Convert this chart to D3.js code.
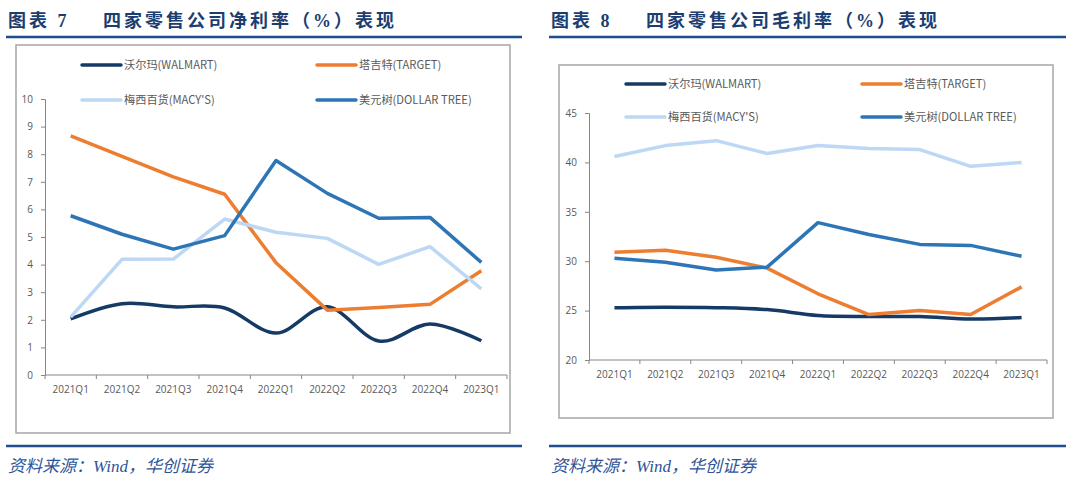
<!DOCTYPE html>
<html>
<head>
<meta charset="utf-8">
<script src="https://cdn.jsdelivr.net/npm/d3@7"></script>
<style>
  body { margin: 0; background: #fff; }
  svg { display: block; font-family: "Noto Sans CJK SC", "Noto Sans", sans-serif; }
  .axis text { fill: #595959; font-size: 10px; font-family: "Open Sans", "Noto Sans", sans-serif; }
  .axis path, .axis line { stroke: #868686; }
  .title { font-family: "Liberation Serif", "Noto Sans CJK SC", serif; }
</style>
</head>
<body>
<div class="chart"></div>
<script>
// quarters on the x axis
var quarters = ["2021Q1", "2021Q2", "2021Q3", "2021Q4", "2022Q1", "2022Q2", "2022Q3", "2022Q4", "2023Q1"];
var seriesNames = ["沃尔玛(WALMART)", "塔吉特(TARGET)", "梅西百货(MACY'S)", "美元树(DOLLAR TREE)"];

// chart 7: net margin (%)
var netWalmart = [2.03, 2.58, 2.47, 2.43, 1.52, 2.47, 1.23, 1.85, 1.24];
var netTarget = [8.66, 7.92, 7.18, 6.55, 4.07, 2.35, 2.45, 2.56, 3.78];
var netMacys = [2.10, 4.19, 4.20, 5.65, 5.17, 4.95, 4.01, 4.65, 3.12];
var netDollarTree = [5.77, 5.10, 4.56, 5.05, 7.77, 6.58, 5.68, 5.71, 4.08];
var netTicks = [0, 1, 2, 3, 4, 5, 6, 7, 8, 9, 10];

// chart 8: gross margin (%)
var grossWalmart = [25.3, 25.35, 25.3, 25.1, 24.5, 24.4, 24.4, 24.15, 24.3];
var grossTarget = [30.9, 31.1, 30.4, 29.3, 26.7, 24.6, 25.0, 24.6, 27.4];
var grossMacys = [40.6, 41.7, 42.2, 40.9, 41.7, 41.4, 41.3, 39.6, 40.0];
var grossDollarTree = [30.3, 29.9, 29.1, 29.4, 33.9, 32.7, 31.7, 31.6, 30.5];
var grossTicks = [20, 25, 30, 35, 40, 45];

var colors = ["#163a66", "#ed7d31", "#bcd8f4", "#2e75b6"];
var smooth = [true, false, false, false];

var svg = d3.select(".chart")
    .append("svg")
    .attr("width", 1080)
    .attr("height", 485);

var panels = [
    {
        title: "图表 7", subtitle: "四家零售公司净利率（%）表现",
        left: 6, right: 522,
        box: { x: 16, y: 45, w: 494, h: 388 },
        plot: { x: 45, y: 99, w: 462, h: 276 },
        legend: { x: [82, 317], y: [65, 100] },
        ticks: netTicks,
        series: [netWalmart, netTarget, netMacys, netDollarTree]
    },
    {
        title: "图表 8", subtitle: "四家零售公司毛利率（%）表现",
        left: 549, right: 1066,
        box: { x: 559, y: 65, w: 494, h: 353 },
        plot: { x: 589, y: 113, w: 458, h: 247 },
        legend: { x: [626, 862], y: [84, 117] },
        ticks: grossTicks,
        series: [grossWalmart, grossTarget, grossMacys, grossDollarTree]
    }
];

panels.forEach(function(p) {
    var g = svg.append("g");

    // title
    g.append("text")
        .attr("class", "title")
        .attr("x", p.left + 2)
        .attr("y", 27)
        .attr("fill", "#1b3d70")
        .attr("font-size", "18px")
        .attr("font-weight", "bold")
        .attr("letter-spacing", "3px")
        .text(p.title);
    g.append("text")
        .attr("class", "title")
        .attr("x", p.left + 97)
        .attr("y", 27)
        .attr("fill", "#1b3d70")
        .attr("font-size", "18px")
        .attr("font-weight", "bold")
        .attr("letter-spacing", "3px")
        .text(p.subtitle);

    g.append("line")
        .attr("x1", p.left).attr("x2", p.right)
        .attr("y1", 37).attr("y2", 37)
        .attr("stroke", "#1f4e8c").attr("stroke-width", 2.5);

    // chart frame
    g.append("rect")
        .attr("x", p.box.x).attr("y", p.box.y)
        .attr("width", p.box.w).attr("height", p.box.h)
        .attr("fill", "none")
        .attr("stroke", "#a6a6a6")
        .attr("stroke-width", 1.5);

    var x = d3.scaleBand()
        .domain(quarters)
        .range([p.plot.x, p.plot.x + p.plot.w]);

    var y = d3.scaleLinear()
        .domain(d3.extent(p.ticks))
        .range([p.plot.y + p.plot.h, p.plot.y]);

    // y axis
    g.append("g")
        .attr("class", "axis")
        .attr("transform", `translate(${p.plot.x}, 0)`)
        .call(d3.axisLeft(y).tickValues(p.ticks).tickSize(4).tickSizeOuter(4).tickPadding(8));

    // x axis: labels at band centres, tick marks at band edges
    var xAxis = g.append("g")
        .attr("class", "axis")
        .attr("transform", `translate(0, ${p.plot.y + p.plot.h})`)
        .call(d3.axisBottom(x).tickSize(0).tickPadding(11));
    xAxis.select(".domain").attr("d", `M${p.plot.x},0H${p.plot.x + p.plot.w}`);
    xAxis.selectAll(".edge")
        .data(d3.range(quarters.length + 1))
        .enter()
        .append("line")
        .attr("class", "edge")
        .attr("x1", d => p.plot.x + d * x.step())
        .attr("x2", d => p.plot.x + d * x.step())
        .attr("y1", 0).attr("y2", 4);

    // lines
    p.series.forEach(function(values, i) {
        var line = d3.line()
            .x((d, j) => x(quarters[j]) + x.bandwidth() / 2)
            .y(d => y(d))
            .curve(smooth[i] ? d3.curveCardinal : d3.curveLinear);
        g.append("path")
            .datum(values)
            .attr("fill", "none")
            .attr("stroke", colors[i])
            .attr("stroke-width", 3.5)
            .attr("stroke-linejoin", "round")
            .attr("d", line);
    });

    // legend
    seriesNames.forEach(function(name, i) {
        var lx = p.legend.x[i % 2];
        var ly = p.legend.y[Math.floor(i / 2)];
        g.append("line")
            .attr("x1", lx).attr("x2", lx + 39)
            .attr("y1", ly).attr("y2", ly)
            .attr("stroke", colors[i])
            .attr("stroke-width", 3.5)
            .attr("stroke-linecap", "round");
        g.append("text")
            .attr("x", lx + 42)
            .attr("y", ly)
            .attr("dy", "0.35em")
            .attr("fill", "#595959")
            .attr("font-size", "11.2px")
            .text(name);
    });

    // source
    g.append("line")
        .attr("x1", p.left).attr("x2", p.right)
        .attr("y1", 446).attr("y2", 446)
        .attr("stroke", "#1f4e8c").attr("stroke-width", 2.5);
    g.append("text")
        .attr("class", "title")
        .attr("x", p.left + 2)
        .attr("y", 472)
        .attr("fill", "#2f5597")
        .attr("font-size", "17px")
        .attr("font-style", "italic")
        .text("资料来源：Wind，华创证券");
});
</script>
</body>
</html>
